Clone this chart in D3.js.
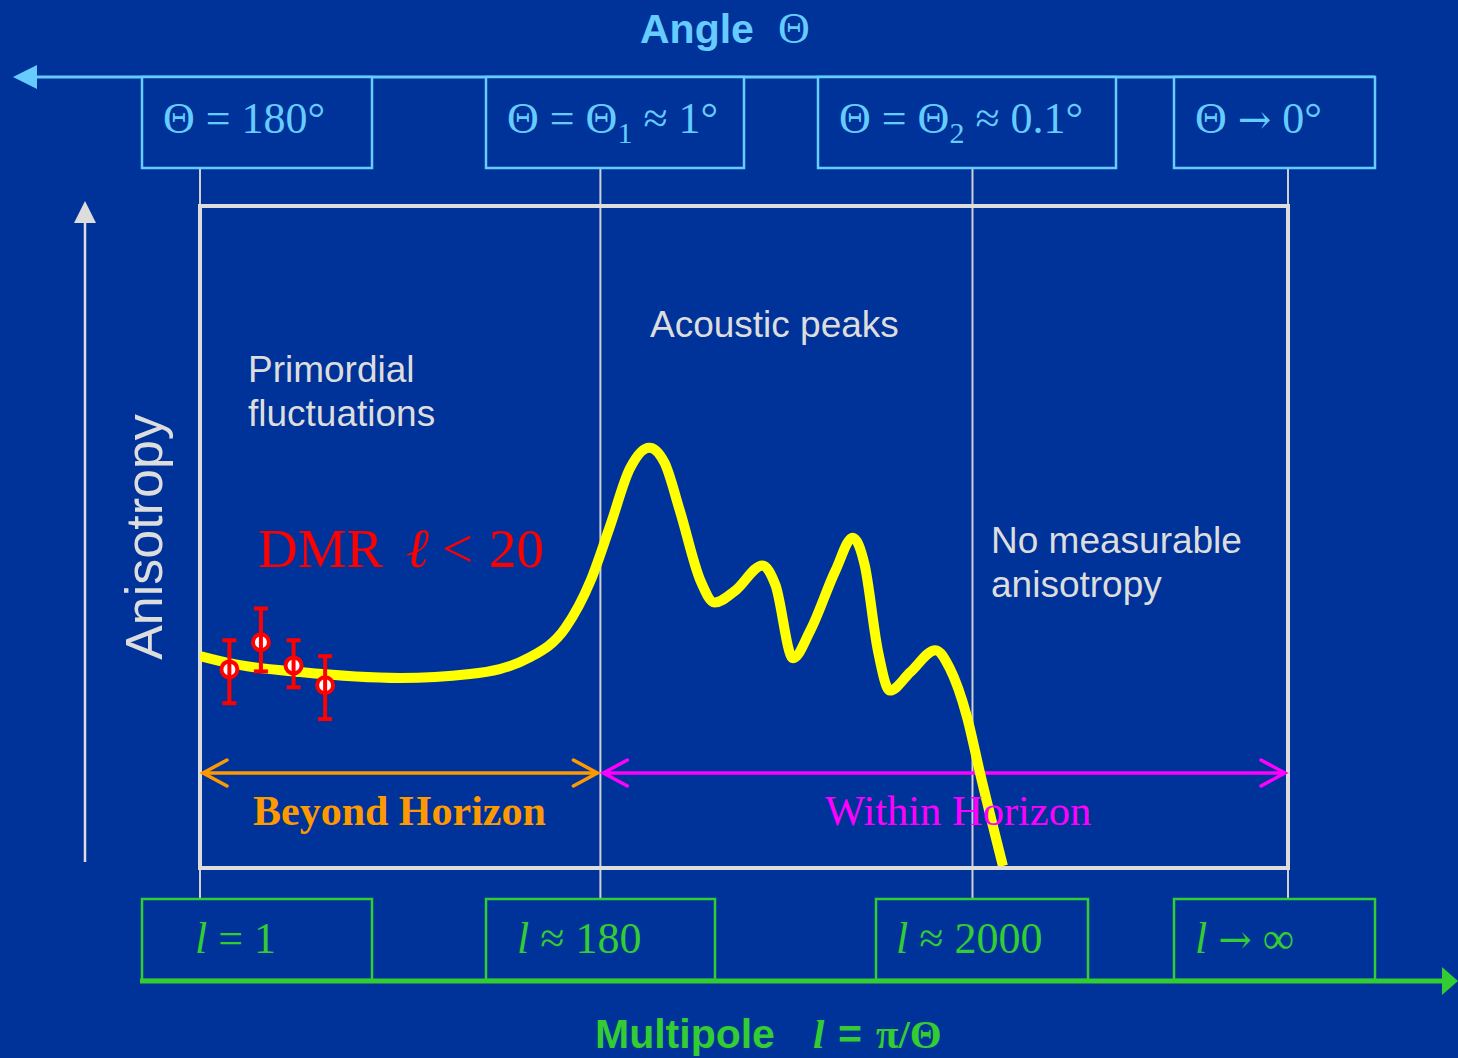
<!DOCTYPE html>
<html>
<head>
<meta charset="utf-8">
<script src="https://cdn.jsdelivr.net/npm/d3@7"></script>
<style>
  html, body { margin: 0; padding: 0; background: #003399; }
  svg { display: block; }
</style>
</head>
<body>
<svg id="chart" width="1458" height="1058"></svg>
<script>
// ---------------- DATA ----------------
// Plot coordinates: x = 0..100 across the frame (multipole progression), y = 0..100 anisotropy (arbitrary units)
const regionEdges = [0, 36.8, 71.0, 100];

// Angle labels (top) as text segments; "sub" marks a subscript, "sym" a symbol glyph
const angleLabels = [
  [{ t: "Θ = 180°" }],
  [{ t: "Θ = Θ" }, { t: "1", sub: true }, { t: " ≈ 1°" }],
  [{ t: "Θ = Θ" }, { t: "2", sub: true }, { t: " ≈ 0.1°" }],
  [{ t: "Θ " }, { t: "→", sym: true }, { t: " 0°" }]
];
// Multipole labels (bottom); "it" marks the italic l
const multipoleLabels = [
  [{ t: "l", it: true }, { t: " = 1" }],
  [{ t: "l", it: true }, { t: " ≈ 180" }],
  [{ t: "l", it: true }, { t: " ≈ 2000" }],
  [{ t: "l", it: true }, { t: " " }, { t: "→", sym: true }, { t: " ∞" }]
];

// Power-spectrum sketch (yellow curve)
const curveX = [0, 2.8, 9.2, 18.4, 24.8, 30.3, 33.6, 35.9, 37.7, 39.5, 41.3, 42.7, 44.1, 46.0, 47.3, 49.2, 51.7, 52.9, 54.5, 56.1, 58.4, 60.0, 61.1, 62.3, 63.4, 65.3, 67.6, 68.9, 70.5, 71.7, 73.8];
const curveY = [32.0, 30.9, 29.6, 28.7, 29.3, 31.8, 36.3, 43.4, 51.7, 60.3, 63.5, 61.2, 54.0, 43.4, 40.1, 41.9, 45.7, 42.7, 31.7, 35.9, 44.9, 49.9, 45.7, 32.9, 26.8, 29.6, 32.9, 30.2, 22.8, 14.3, 0.3];

// DMR measurements with error bars
const dmrX = [2.7, 5.6, 8.6, 11.5];
const dmrY = [30.0, 34.1, 30.6, 27.6];
const dmrLo = [24.9, 29.7, 27.3, 22.5];
const dmrHi = [34.4, 39.2, 34.4, 32.0];

// Horizon ranges
const horizonRanges = [
  { name: "Beyond Horizon", from: 0, to: 36.8 },
  { name: "Within Horizon", from: 36.8, to: 100 }
];
const regionNotes = [
  ["Primordial", "fluctuations"],
  ["Acoustic peaks"],
  ["No measurable", "anisotropy"]
];

// ---------------- LAYOUT ----------------
const W = 1458, H = 1058;
const BG = "#003399", CYAN = "#66ccff", GREEN = "#33cc33", GREY = "#dddddd";
const SERIF = "'Liberation Serif', 'Times New Roman', serif";
const SANS = "'Liberation Sans', Arial, sans-serif";
const SYM = "'DejaVu Serif', serif";
const frame = { x0: 200, x1: 1288, y0: 206, y1: 868 };

const svg = d3.select("#chart");
svg.append("rect").attr("width", W).attr("height", H).attr("fill", BG);

const x = d3.scaleLinear().domain([0, 100]).range([frame.x0, frame.x1]);
const y = d3.scaleLinear().domain([0, 100]).range([frame.y1, frame.y0]);

// vertical region lines
svg.append("g").selectAll("line").data(regionEdges).join("line")
  .attr("x1", d => x(d)).attr("x2", d => x(d))
  .attr("y1", 168).attr("y2", 899)
  .attr("stroke", "#d0d0d0").attr("stroke-width", 2);

// frame
svg.append("rect")
  .attr("x", frame.x0).attr("y", frame.y0)
  .attr("width", frame.x1 - frame.x0).attr("height", frame.y1 - frame.y0)
  .attr("fill", "none").attr("stroke", GREY).attr("stroke-width", 4);

function fillSegments(sel) {
  sel.each(function (segs) {
    const t = d3.select(this);
    let prevSub = false;
    segs.forEach(s => {
      const sp = t.append("tspan").text(s.t);
      if (s.sub) sp.attr("font-size", 30).attr("dy", 10);
      else if (prevSub) sp.attr("dy", -10);
      if (s.it) sp.attr("font-style", "italic");
      if (s.sym) sp.attr("font-family", SYM).attr("font-size", 40);
      prevSub = !!s.sub;
    });
  });
}

// ---- Top angle axis ----
svg.append("line").attr("x1", 30).attr("x2", 1375).attr("y1", 77).attr("y2", 77)
  .attr("stroke", CYAN).attr("stroke-width", 3);
svg.append("path").attr("d", "M13,77 L37,65 L37,89 Z").attr("fill", CYAN);

const topBoxes = [
  { x: 142, w: 230, tx: 163 },
  { x: 486, w: 258, tx: 507 },
  { x: 818, w: 298, tx: 839 },
  { x: 1174, w: 201, tx: 1195 }
];
const tg = svg.append("g").selectAll("g").data(angleLabels).join("g");
tg.append("rect")
  .attr("x", (d, i) => topBoxes[i].x).attr("y", 77)
  .attr("width", (d, i) => topBoxes[i].w).attr("height", 91)
  .attr("fill", BG).attr("stroke", CYAN).attr("stroke-width", 2.5);
tg.append("text")
  .attr("x", (d, i) => topBoxes[i].tx).attr("y", 133)
  .attr("font-family", SERIF).attr("font-size", 44).attr("fill", CYAN)
  .call(fillSegments);

svg.append("text").attr("x", 640).attr("y", 43)
  .attr("font-family", SANS).attr("font-weight", "bold").attr("font-size", 41).attr("fill", CYAN)
  .text("Angle")
  .append("tspan").attr("x", 778).attr("font-family", SERIF).attr("font-weight", "normal").attr("font-size", 44).text("Θ");

// ---- Bottom multipole axis ----
const botBoxes = [
  { x: 142, w: 230, tx: 195 },
  { x: 486, w: 229, tx: 517 },
  { x: 876, w: 212, tx: 896 },
  { x: 1174, w: 201, tx: 1195 }
];
const bg = svg.append("g").selectAll("g").data(multipoleLabels).join("g");
bg.append("rect")
  .attr("x", (d, i) => botBoxes[i].x).attr("y", 899)
  .attr("width", (d, i) => botBoxes[i].w).attr("height", 81)
  .attr("fill", BG).attr("stroke", GREEN).attr("stroke-width", 2.5);
bg.append("text")
  .attr("x", (d, i) => botBoxes[i].tx).attr("y", 953)
  .attr("font-family", SERIF).attr("font-size", 44).attr("fill", GREEN)
  .call(fillSegments);
svg.append("line").attr("x1", 140).attr("x2", 1445).attr("y1", 981).attr("y2", 981)
  .attr("stroke", GREEN).attr("stroke-width", 5);
svg.append("path").attr("d", "M1458,981 L1442,967 L1442,995 Z").attr("fill", GREEN);

const mt = svg.append("text").attr("x", 595).attr("y", 1048)
  .attr("font-family", SANS).attr("font-weight", "bold").attr("font-size", 41).attr("fill", GREEN);
mt.append("tspan").text("Multipole");
mt.append("tspan").attr("x", 813).attr("font-family", SERIF).attr("font-style", "italic").text("l");
mt.append("tspan").attr("x", 838).text("=");
mt.append("tspan").attr("x", 876).attr("font-family", SERIF).text("π/Θ");

// ---- Anisotropy axis ----
svg.append("line").attr("x1", 85).attr("x2", 85).attr("y1", 862).attr("y2", 218)
  .attr("stroke", GREY).attr("stroke-width", 2.5);
svg.append("path").attr("d", "M85,201 L74,223 L96,223 Z").attr("fill", GREY);
svg.append("text")
  .attr("transform", "translate(162,537) rotate(-90)")
  .attr("text-anchor", "middle")
  .attr("font-family", SANS).attr("font-size", 52).attr("fill", GREY)
  .text("Anisotropy");

// ---- Region notes ----
const notePos = [{ x: 248, y: 382 }, { x: 650, y: 337 }, { x: 991, y: 553 }];
svg.append("g").selectAll("text").data(regionNotes).join("text")
  .attr("x", (d, i) => notePos[i].x).attr("y", (d, i) => notePos[i].y)
  .attr("font-family", SANS).attr("font-size", 37).attr("fill", GREY)
  .each(function (lines, i) {
    d3.select(this).selectAll("tspan").data(lines).join("tspan")
      .attr("x", notePos[i].x).attr("dy", (d, j) => j === 0 ? 0 : 44).text(d => d);
  });

// ---- DMR label ----
const dmr = svg.append("text").attr("x", 258).attr("y", 567)
  .attr("font-family", SERIF).attr("font-size", 55).attr("fill", "#ff0000");
dmr.append("tspan").text("DMR");
dmr.append("tspan").attr("x", 406).attr("font-style", "italic").text("ℓ");
dmr.append("tspan").attr("x", 442).text("<");
dmr.append("tspan").attr("x", 489).text("20");

// ---- Horizon arrows ----
const hColors = ["#ff9900", "#ff00ff"];
const arrowY = 773;
const hg = svg.append("g").selectAll("g").data(horizonRanges).join("g");
hg.append("line")
  .attr("x1", d => x(d.from) + 3).attr("x2", d => x(d.to) - 3)
  .attr("y1", arrowY).attr("y2", arrowY)
  .attr("stroke", (d, i) => hColors[i]).attr("stroke-width", 3.5);
hg.append("path")
  .attr("d", d => {
    const a = x(d.from) + 3, b = x(d.to) - 3;
    return `M${a + 24},${arrowY - 13} L${a},${arrowY} L${a + 24},${arrowY + 13} M${b - 24},${arrowY - 13} L${b},${arrowY} L${b - 24},${arrowY + 13}`;
  })
  .attr("fill", "none").attr("stroke", (d, i) => hColors[i]).attr("stroke-width", 3.5)
  .attr("stroke-linecap", "round").attr("stroke-linejoin", "miter");

// ---- Yellow curve ----
const curveData = curveX.map((v, i) => [v, curveY[i]]);
const line = d3.line().x(d => x(d[0])).y(d => y(d[1])).curve(d3.curveMonotoneX);
svg.append("defs").append("clipPath").attr("id", "clip")
  .append("rect").attr("x", frame.x0).attr("y", frame.y0).attr("width", frame.x1 - frame.x0).attr("height", frame.y1 - frame.y0 - 2);
svg.append("path").datum(curveData)
  .attr("d", line).attr("clip-path", "url(#clip)")
  .attr("fill", "none").attr("stroke", "#ffff00").attr("stroke-width", 10).attr("stroke-linecap", "butt");

// horizon labels (drawn over curve like reference)
svg.append("text").attr("x", 253).attr("y", 825)
  .attr("font-family", SERIF).attr("font-weight", "bold").attr("font-size", 42).attr("fill", hColors[0])
  .text(horizonRanges[0].name);
svg.append("text").attr("x", 825).attr("y", 825)
  .attr("font-family", SERIF).attr("font-size", 42.5).attr("fill", hColors[1])
  .text(horizonRanges[1].name);

// ---- DMR error bars ----
const pts = dmrX.map((v, i) => ({ x: v, y: dmrY[i], lo: dmrLo[i], hi: dmrHi[i] }));
const pg = svg.append("g").selectAll("g").data(pts).join("g").attr("stroke", "#ff0000").attr("stroke-width", 4);
pg.append("circle").attr("cx", d => x(d.x)).attr("cy", d => y(d.y)).attr("r", 8).attr("fill", "#ffffff");
pg.append("line").attr("x1", d => x(d.x)).attr("x2", d => x(d.x)).attr("y1", d => y(d.lo)).attr("y2", d => y(d.hi));
pg.append("line").attr("x1", d => x(d.x) - 7).attr("x2", d => x(d.x) + 7).attr("y1", d => y(d.lo)).attr("y2", d => y(d.lo));
pg.append("line").attr("x1", d => x(d.x) - 7).attr("x2", d => x(d.x) + 7).attr("y1", d => y(d.hi)).attr("y2", d => y(d.hi));
</script>
</body>
</html>
